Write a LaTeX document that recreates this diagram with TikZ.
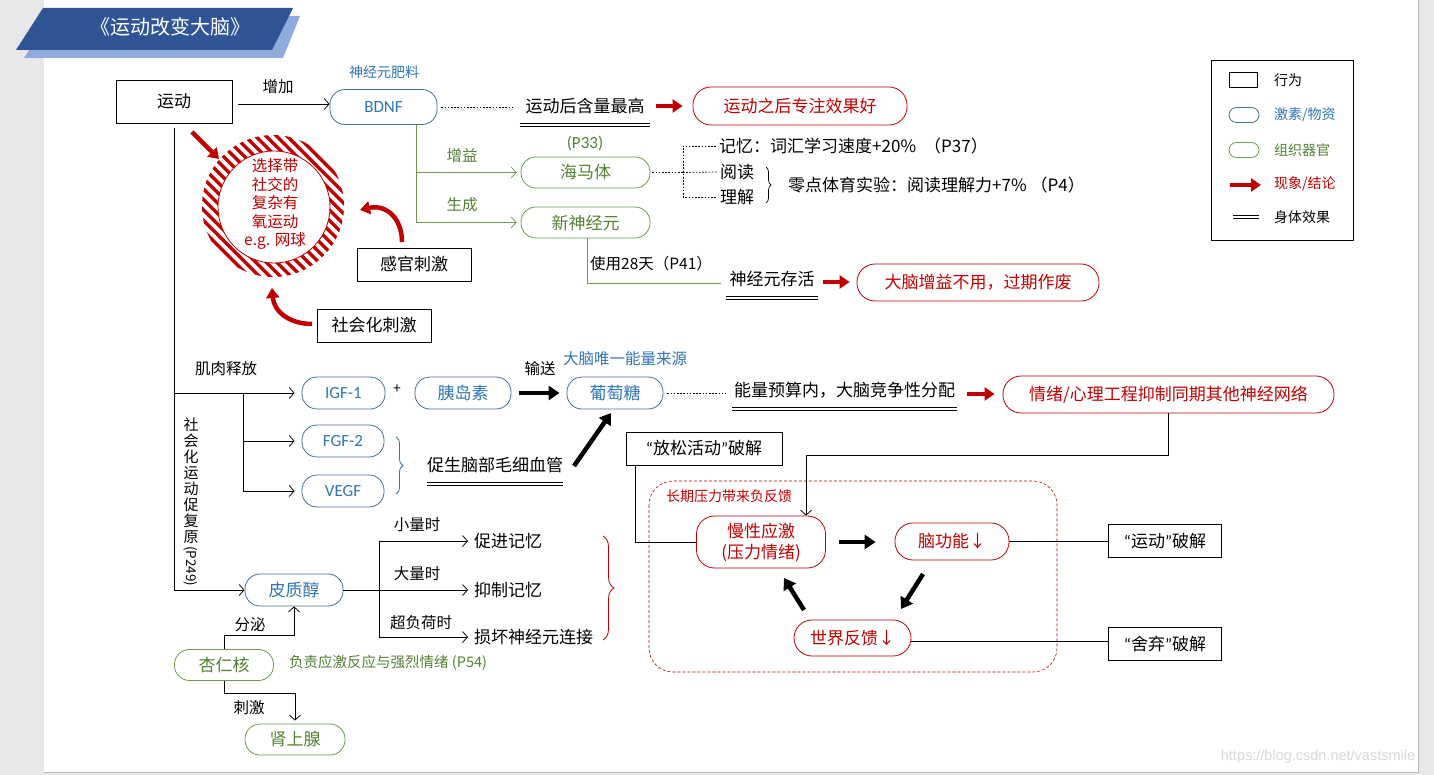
\documentclass[tikz,border=0pt]{standalone}
\usepackage{fontspec}
\setmainfont{Noto Sans CJK SC}
\newfontfamily\latfont{Carlito}
\newfontfamily\urlfont{Liberation Sans}
\usetikzlibrary{arrows.meta,decorations.pathreplacing}

\definecolor{pagegray}{HTML}{E8E8E8}
\definecolor{hblue}{HTML}{41719C}
\definecolor{tblue}{HTML}{2E75B6}
\definecolor{ogreen}{HTML}{6A9A4A}
\definecolor{tgreen}{HTML}{548235}
\definecolor{rred}{HTML}{C00000}
\definecolor{bannerdark}{HTML}{2F5597}
\definecolor{bannerlight}{HTML}{8FAADC}

\newcommand\fsM{\fontsize{17}{20}\selectfont}
\newcommand\fsL{\fontsize{15.5}{18}\selectfont}
\newcommand\fsS{\fontsize{14}{17}\selectfont}
\newcommand\fsT{\fontsize{20}{24}\selectfont}
% narrow Western quotation marks
\newcommand\qopen{{\latfont “}}
\newcommand\qclose{{\latfont ”}}

\tikzset{
  base/.style={inner sep=0pt, font=\fsM, text=black},
  lab/.style={inner sep=0pt, font=\fsL, text=black},
  beh/.style={base, draw, line width=0.8pt},
  pill/.style={base, draw, line width=0.8pt, rounded corners=15pt},
  hormone/.style={pill, draw=hblue, text=tblue},
  organ/.style={pill, draw=ogreen, text=tgreen},
  result/.style={pill, draw=rred, text=rred, rounded corners=18pt},
  conn/.style={line width=0.75pt, draw=black},
  gline/.style={line width=0.75pt, draw=ogreen},
  arr/.style={conn, -{Straight Barb[length=5pt,width=11pt]}},
  garr/.style={gline, -{Straight Barb[length=5pt,width=11pt]}},
  dotline/.style={line width=0.7pt, dash pattern=on 1.6pt off 1.6pt},
  dbl/.style={line width=0.7pt, double distance=2.4pt},
  bigred/.style={draw=rred, line width=4.5pt, -{Triangle[length=10pt,width=13pt]}},
  bigblack/.style={draw=black, line width=4.5pt, -{Triangle[length=11pt,width=14pt]}},
}

\begin{document}
\begin{tikzpicture}[x=1pt,y=-1pt]
\useasboundingbox (0,0) rectangle (1434,775);
% page
\fill[pagegray] (0,0) rectangle (1434,775);
\fill[white] (44,0) rectangle (1418,772);
\draw[gray!55, line width=0.8pt] (44,772) -- (1418,772) -- (1418,0);

% title banner
\fill[bannerlight] (51,16) -- (300,16) -- (283,58) -- (24,58) -- cycle;
\fill[bannerdark] (43,8) -- (293,8) -- (272,50) -- (16,50) -- cycle;
\node[inner sep=0pt, font=\fsT, text=white] (title) at (170,27) {《运动改变大脑》};

% ---------- top part ----------
\node[beh, minimum width=116pt, minimum height=43pt] (yd) at (174,101.5) {运动};
\node[hormone, minimum width=107pt, minimum height=35pt, font=\latfont\fsM] (bdnf) at (383.5,107) {BDNF};
\node[inner sep=0pt, font=\fsS, text=tblue] (bdnfl) at (384,72) {神经元肥料};
\draw[arr] ([yshift=-2.5pt]yd.east) ++(6,0) -- ([yshift=-2.5pt]yd.east -| bdnf.west);
\node[lab] (l1) at (278,87) {增加};

\node[base, minimum width=130pt, minimum height=38pt] (e1) at (585,106) {运动后含量最高};
\draw[dbl] (e1.south west) -- (e1.south east);
\node[result, minimum width=214pt, minimum height=38pt] (r1) at (800,106) {运动之后专注效果好};
\draw[dotline, shorten <=4pt, shorten >=7pt] (bdnf.east) -- (bdnf.east -| e1.west);
\draw[bigred, shorten <=6pt, shorten >=10pt] (e1.east) -- (e1.east -| r1.west);

% hippocampus and new neurons
\node[organ, minimum width=129pt, minimum height=31pt] (hip) at (585.5,172.5) {海马体};
\node[inner sep=0pt, font=\latfont\fsM, text=tgreen] (p33) at (585,143) {(P33)};
\node[organ, minimum width=129pt, minimum height=31pt] (neu) at (585.5,222.5) {新神经元};
\coordinate (bj) at ([xshift=32.5pt]bdnf.south);
\draw[garr, shorten >=4pt] (bj) |- (hip.west);
\draw[garr, shorten >=4pt] (bj) |- (neu.west);
\node[lab, text=tgreen] (l2) at (462,156) {增益};
\node[lab, text=tgreen] (l3) at (462,205) {生成};

\node[base, minimum width=91pt, minimum height=38pt] (e2) at (772,279) {神经元存活};
\draw[dbl] (e2.south west) -- (e2.south east);
\draw[gline, shorten >=5pt] ([xshift=1.5pt]neu.south) |- ([yshift=-4pt]e2.west);
\node[lab] (l4) at (651,264) {使用28天（P41）};
\node[result, minimum width=242pt, minimum height=37pt] (r2) at (978,282.5) {大脑增益不用，过期作废};
\draw[bigred, shorten <=5pt, shorten >=7pt] ([yshift=-3pt]e2.east) -- ([yshift=-3pt]e2.east -| r2.west);

% effects of the hippocampus
\coordinate (hj) at (683,172.5);
\node[base, anchor=west] (m1) at (719,146) {记忆：词汇学习速度+20\%\hspace{8pt}（P37）};
\node[base, anchor=west] (m2) at (720,172) {阅读};
\node[base, anchor=west] (m3) at (720,197) {理解};
\node[base, anchor=west] (m4) at (788,185) {零点体育实验：阅读理解力+7\%\hspace{4pt}（P4）};
\draw[dotline, shorten <=2pt] (hip.east) -- (hj);
\draw[dotline, shorten >=3pt] (hj) -- (m2.west);
\draw[dotline, shorten <=3pt, shorten >=3pt] (m1.west) -| (hj) |- (m3.west);
\draw[line width=0.7pt, decorate, decoration={brace, amplitude=5pt}] (766,167) -- (766,203);

% hatched ring of social, complex aerobic exercise
\begin{scope}[shift={(273,206)}]
  \begin{scope}
    \clip (0,0) circle[radius=71pt];
    \foreach \d in {-189,-178.5,...,190}
      \draw[rred, line width=3.5pt] (\d-100,-100) -- (\d+100,100);
  \end{scope}
  \fill[white] (1,1) circle[radius=56pt];
  \draw[rred, line width=0.8pt] (1,1) circle[radius=56pt];
\end{scope}
\node[inner sep=0pt, align=center, text=rred, font=\fontsize{15.5}{18.5}\selectfont] (ring) at (275,204) {选择带\\社交的\\复杂有\\氧运动\\e.g. 网球};

\coordinate (ra1) at (192,132);
\coordinate (ra2) at (219,159);
\draw[bigred] (ra1) -- (ra2);

\node[beh, minimum width=114pt, minimum height=33pt] (gs) at (414,264.5) {感官刺激};
\node[beh, minimum width=114pt, minimum height=33pt] (sh) at (374,325.5) {社会化刺激};
\coordinate (rb1) at (402,242);
\coordinate (rb2) at (360,210);
\draw[bigred] (rb1) .. controls (402,218) and (386,204) .. (rb2);
\coordinate (rc1) at (312,324);
\coordinate (rc2) at (272,288);
\draw[bigred] (rc1) .. controls (290,324) and (274,312) .. (rc2);

% ---------- middle part ----------
\node[hormone, minimum width=83pt, minimum height=32pt, font=\latfont\fsM] (igf) at (343.5,393) {IGF-1};
\node[inner sep=0pt, font=\fsS] (plus) at (397,389) {+};
\node[hormone, minimum width=96pt, minimum height=32pt] (ins) at (463,393) {胰岛素};
\node[hormone, minimum width=96pt, minimum height=32pt] (glu) at (615,393) {葡萄糖};
\node[lab] (l5) at (540,369) {输送};
\node[inner sep=0pt, font=\fsL, text=tblue] (glul) at (625,359) {大脑唯一能量来源};
\draw[bigblack, shorten <=8pt, shorten >=7pt] (ins.east) -- (glu.west);

\node[base, minimum width=225pt, minimum height=38pt] (e3) at (844.5,390) {能量预算内，大脑竞争性分配};
\draw[dbl] (e3.south west) -- (e3.south east);
\draw[dotline, shorten <=4pt, shorten >=6pt] (glu.east) -- (glu.east -| e3.west);
\node[result, minimum width=331pt, minimum height=37pt] (r3) at (1168.5,394.5) {情绪/心理工程抑制同期其他神经网络};
\draw[bigred, shorten <=10pt, shorten >=8pt] ([yshift=-4pt]e3.east) -- ([yshift=-4pt]e3.east -| r3.west);

\node[hormone, minimum width=82pt, minimum height=32pt, font=\latfont\fsM] (fgf) at (343,441) {FGF-2};
\node[hormone, minimum width=82pt, minimum height=32pt, font=\latfont\fsM] (vegf) at (343,491) {VEGF};
\draw[hblue, line width=0.8pt, decorate, decoration={brace, amplitude=7pt}] (396,437) -- (396,494);
\node[base, minimum width=130pt, minimum height=38pt] (e4) at (495,465) {促生脑部毛细血管};
\draw[dbl] (e4.south west) -- (e4.south east);
\coordinate (kb1) at (574,466);
\coordinate (kb2) at (611,413);
\draw[bigblack] (kb1) -- (kb2);

% ---------- cortisol ----------
\node[hormone, minimum width=98pt, minimum height=32pt] (cort) at (294,590) {皮质醇};

% trunk from exercise
\draw[arr] ([yshift=-5pt]yd.south) |- (cort.west);
\coordinate (mj) at (yd.south |- igf.west);
\coordinate (fj) at (243,393);
\draw[arr, shorten >=7pt] (mj) -- (igf.west);
\draw[arr, shorten >=7pt] (fj) |- (fgf.west);
\draw[arr, shorten >=7pt] (fj) |- (vegf.west);
\node[lab] (l6) at (226,369) {肌肉释放};
\node[inner sep=0pt, align=center, anchor=north, font=\fontsize{15}{15.9}\selectfont] (vt) at (191,418) {社\\会\\化\\运\\动\\促\\复\\原};
\node[inner sep=0pt, rotate=-90, anchor=west, font=\fontsize{13.5}{16}\selectfont] (vp) at (191,546) {(P249)};

\coordinate (cj) at (379,590);
\node[base, anchor=west] (c1) at (474,541) {促进记忆};
\node[base, anchor=west] (c2) at (474,590) {抑制记忆};
\node[base, anchor=west] (c3) at (474,637) {损坏神经元连接};
\draw[conn] (cort.east) -- (cj);
\draw[arr, shorten >=6pt] (cj) |- (c1.west);
\draw[arr, shorten >=6pt] (cj) -- (c2.west);
\draw[arr, shorten >=6pt] (cj) |- (c3.west);
\node[lab] (l7) at (417,525) {小量时};
\node[lab] (l8) at (417,574) {大量时};
\node[lab] (l9) at (421,623) {超负荷时};
\draw[rred, line width=0.8pt, decorate, decoration={brace, amplitude=11pt}] (603,536) -- (603,640);

\node[organ, minimum width=99pt, minimum height=31pt] (amy) at (224,665) {杏仁核};
\node[organ, minimum width=100pt, minimum height=31pt] (adr) at (295,739.5) {肾上腺};
\draw[arr] (amy.north) -- ++(0,-14) -| (cort.south);
\draw[arr, shorten >=3pt] (amy.south) -- ++(0,12) -| (adr.north);
\node[lab] (l10) at (250,625) {分泌};
\node[lab] (l11) at (249,708) {刺激};
\node[inner sep=0pt, anchor=west, text=tgreen, font=\fontsize{14.5}{17}\selectfont] (amyl) at (289,663) {负责应激反应与强烈情绪 (P54)};

% ---------- chronic stress loop ----------
\draw[rred, line width=0.6pt, dash pattern=on 3pt off 2pt, rounded corners=24pt] (649,481) rectangle (1057,672);
\node[inner sep=0pt, text=rred, font=\fsS] (loopl) at (729,496) {长期压力带来负反馈};
\node[beh, minimum width=156pt, minimum height=33pt] (fs) at (704,448.5) {\qopen 放松活动\qclose 破解};
\node[result, minimum width=129pt, minimum height=52pt, align=center, font=\fontsize{17}{21}\selectfont] (chr) at (761,542) {慢性应激\\(压力情绪)};
\node[result, minimum width=114pt, minimum height=37pt] (brain) at (952,541.5) {脑功能↓};
\node[result, minimum width=117pt, minimum height=36pt] (world) at (852.5,638) {世界反馈↓};
\node[beh, minimum width=113pt, minimum height=33pt] (yd2) at (1165,541) {\qopen 运动\qclose 破解};
\node[beh, minimum width=113pt, minimum height=33pt] (sq) at (1165,644) {\qopen 舍弃\qclose 破解};

\draw[conn] ([xshift=10pt]fs.south west) |- (chr.west);
\draw[arr] (r3.south) -- ++(0,42) -| ([xshift=45pt]chr.north);
\draw[bigblack, shorten <=13pt, shorten >=19pt] (chr.east) -- (chr.east -| brain.west);
\coordinate (kd1) at (923,574);
\coordinate (kd2) at (901,609);
\draw[bigblack] (kd1) -- (kd2);
\coordinate (ke1) at (804,610);
\coordinate (ke2) at (784,578);
\draw[bigblack] (ke1) -- (ke2);
\draw[conn] (brain.east) -- (brain.east -| yd2.west);
\draw[conn] ([yshift=-3pt]world.east) -- ([yshift=-3pt]world.east -| sq.west);

% ---------- legend ----------
\node[draw, line width=0.8pt, minimum width=142pt, minimum height=180pt, inner sep=0pt] (leg) at (1282,150) {};
\node[draw, line width=0.8pt, minimum width=28pt, minimum height=15pt, inner sep=0pt] (lg1) at (1243,80) {};
\node[draw=hblue, line width=0.8pt, rounded corners=7.5pt, minimum width=30pt, minimum height=15pt, inner sep=0pt] (lg2) at (1244,115) {};
\node[draw=ogreen, line width=0.8pt, rounded corners=7.5pt, minimum width=30pt, minimum height=15pt, inner sep=0pt] (lg3) at (1244,150) {};
\coordinate (lg4a) at (1230,185);
\coordinate (lg4b) at (1261,185);
\draw[bigred] (lg4a) -- (lg4b);
\coordinate (lg5a) at (1233,217);
\coordinate (lg5b) at (1259,217);
\draw[dbl] (lg5a) -- (lg5b);
\node[inner sep=0pt, anchor=west, font=\fsS] (lt1) at (1274,80) {行为};
\node[inner sep=0pt, anchor=west, font=\fsS, text=tblue] (lt2) at (1274,115) {激素/物资};
\node[inner sep=0pt, anchor=west, font=\fsS, text=tgreen] (lt3) at (1274,150) {组织器官};
\node[inner sep=0pt, anchor=west, font=\fsS, text=rred] (lt4) at (1274,184) {现象/结论};
\node[inner sep=0pt, anchor=west, font=\fsS] (lt5) at (1274,217) {身体效果};

% blog address
\node[inner sep=0pt, text=gray!30, font=\urlfont\fontsize{14.5}{17}\selectfont] (url) at (1318,757) {https://blog.csdn.net/vastsmile};
\end{tikzpicture}
\end{document}
